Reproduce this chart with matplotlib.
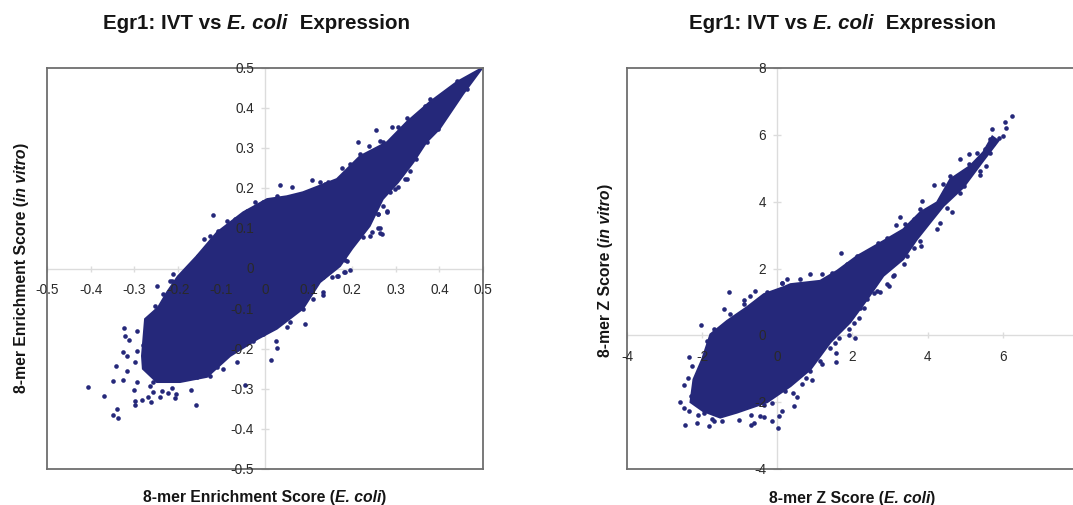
import matplotlib
matplotlib.use('Agg')
import matplotlib.pyplot as plt

plt.rcParams['font.family'] = ['Liberation Sans', 'DejaVu Sans']

W, H = 1073, 506
BLUE = '#25287a'
GREY = '#6e6e6e'
LIGHT = '#dcdcdc'
TXT = '#2a2a2a'

# left panel: outline of the solid cloud
left_hull_x = [-0.282, -0.275, -0.245, -0.225, -0.20, -0.157, -0.11, -0.05, 0.005, 0.05, 0.087, 0.165,
               0.218, 0.28, 0.325, 0.378, 0.44, 0.498, 0.454, 0.40, 0.37, 0.34, 0.305, 0.27, 0.24,
               0.20, 0.172, 0.126, 0.087, 0.027, -0.018, -0.08, -0.133, -0.195, -0.248, -0.28]
left_hull_y = [-0.218, -0.126, -0.097, -0.06, -0.02, 0.03, 0.09, 0.14, 0.173, 0.18, 0.19, 0.223,
               0.28, 0.315, 0.365, 0.415, 0.465, 0.5, 0.435, 0.348, 0.315, 0.265, 0.215, 0.173, 0.106,
               0.05, 0.006, -0.034, -0.10, -0.15, -0.176, -0.218, -0.27, -0.283, -0.283, -0.25]

# left panel: separate dots outside the cloud
left_x = [-0.407, -0.369, -0.348, -0.342, -0.348, -0.339, -0.338, -0.323, -0.32, -0.311, -0.294, -0.326,
          -0.317, -0.294, -0.298, -0.317, -0.326, -0.293, -0.30, -0.299, -0.299, -0.283, -0.262, -0.268,
          -0.258, -0.241, -0.237, -0.222, -0.214, -0.205, -0.206, -0.17, -0.158, -0.046, 0.013, 0.027,
          0.025, 0.092, -0.065, -0.12, 0.034, -0.21, -0.248, -0.218, 0.063, 0.107, 0.176, 0.214, 0.254,
          0.239, 0.264, 0.292, 0.325, 0.378, 0.264, 0.26, 0.279, 0.26, 0.271, 0.346, 0.333, 0.195, 0.181,
          0.167, 0.153, 0.187, 0.241, 0.218]
left_y = [-0.296, -0.317, -0.281, -0.244, -0.365, -0.35, -0.372, -0.148, -0.168, -0.178, -0.156, -0.207,
          -0.217, -0.205, -0.233, -0.255, -0.278, -0.283, -0.302, -0.33, -0.34, -0.327, -0.332, -0.32,
          -0.307, -0.32, -0.305, -0.31, -0.298, -0.313, -0.323, -0.302, -0.34, -0.29, -0.228, -0.199,
          -0.181, -0.138, -0.233, 0.134, 0.209, -0.014, -0.043, -0.03, 0.204, 0.221, 0.251, 0.315, 0.346,
          0.305, 0.319, 0.354, 0.375, 0.423, 0.088, 0.101, 0.142, 0.136, 0.157, 0.273, 0.244, -0.004,
          -0.009, -0.018, -0.021, 0.019, 0.082, 0.091]

# left panel: dots on the rough rim of the cloud
left_rim_x = [-0.141, -0.153, -0.126, -0.107, -0.088, -0.069, -0.042, -0.023, -0.004, 0.027, -0.214, -0.233,
              -0.252, 0.138, 0.264, 0.268, 0.245, 0.225, 0.214, 0.199, 0.183, 0.183, 0.164, 0.134, 0.134,
              0.26, 0.279, 0.287, 0.306, 0.325, -0.111, -0.157, -0.126, -0.096, -0.028, -0.004, 0.05,
              0.057, 0.088, 0.111, 0.134, -0.273, -0.279, -0.218, -0.264, -0.256, 0.126, 0.145, 0.195,
              0.218, 0.271, 0.306, 0.348, 0.367, 0.409, 0.44, 0.271, 0.298, 0.321, 0.371, 0.397, 0.432, 0.463]
left_rim_y = [0.074, 0.032, 0.082, 0.094, 0.119, 0.123, 0.144, 0.165, 0.167, 0.182, -0.03, -0.064,
              -0.094, 0.211, 0.10, 0.086, 0.09, 0.079, 0.094, 0.061, 0.022, -0.009, -0.018, -0.021, -0.066,
              0.136, 0.144, 0.19, 0.202, 0.223, -0.246, -0.271, -0.267, -0.25, -0.18, -0.163, -0.146,
              -0.134, -0.101, -0.076, -0.059, -0.163, -0.192, -0.276, -0.292, -0.283, 0.215, 0.215, 0.261,
              0.286, 0.315, 0.352, 0.381, 0.406, 0.435, 0.468, 0.194, 0.198, 0.223, 0.315, 0.348, 0.415, 0.448]

# right panel
right_hull_x = [-2.31, -2.23, -2.0, -1.78, -1.34, -0.81, -0.36, 0.16, 0.35, 1.14, 1.59, 2.12, 2.82, 3.35,
                3.8, 4.25, 4.6, 5.13, 5.48, 5.72, 5.88, 5.44, 4.95, 4.42, 4.07, 3.71, 3.35,
                2.82, 2.39, 1.94, 1.41, 0.88, 0.35, -0.27, -1.07, -1.52, -1.97]
right_hull_y = [-2.0, -1.32, -0.72, 0.03, 0.43, 0.84, 1.23, 1.44, 1.53, 1.63, 1.93, 2.37, 2.82, 3.17,
                3.68, 3.98, 4.67, 5.07, 5.48, 5.95, 5.82, 5.17, 4.43, 3.87, 3.38, 2.87, 2.28,
                1.78, 1.08, 0.39, -0.21, -1.02, -1.52, -2.0, -2.31, -2.46, -2.27]

right_x = [-1.29, -0.585, -0.72, -0.9, -1.41, -2.02, -2.34, -2.26, -2.39, -2.48, -2.58, -2.49, -2.34, -2.45,
           -2.14, -2.12, -1.83, -1.68, -1.01, -0.70, -0.63, -0.70, -0.45, -0.36, -0.14, 0.01, 0.04, 0.12,
           0.45, 0.51, 0.66, 0.92, 0.77, 1.19, 1.57, 1.57, 2.07, 1.92, 1.90, 2.16, 2.74, 2.92, 2.96, 3.11,
           1.70, 3.27, 3.16, 3.85, 4.16, 4.87, 5.11, 5.71, 6.09, 6.0, 6.06, 6.24, 5.56, 5.40, 4.65, 4.34,
           4.25, 3.83, 3.63, 3.36, 0.88, 1.19, 0.26, 0.13]
right_y = [1.30, 1.33, 1.18, 1.06, 0.80, 0.30, -0.64, -0.93, -1.27, -1.50, -2.0, -2.16, -2.27, -2.69,
           -2.61, -2.37, -2.72, -2.55, -2.54, -2.69, -2.61, -2.37, -2.42, -2.43, -2.57, -2.76, -2.40, -2.27,
           -2.10, -1.84, -1.47, -1.34, -1.29, -0.87, -0.54, -0.80, -0.07, 0.0, 0.18, 0.53, 1.30, 1.53, 1.48,
           1.80, 2.45, 3.55, 3.30, 4.02, 4.49, 5.27, 5.42, 6.17, 6.19, 5.97, 6.37, 6.55, 5.07, 4.79, 3.69,
           3.37, 3.19, 2.67, 2.60, 2.13, 1.83, 1.83, 1.68, 1.58]

right_rim_x = [-1.69, -1.87, -1.25, -0.90, -0.27, 0.13, -2.23, -2.31, -1.96, -1.47, -1.74, -1.16, -0.36, -0.14,
               0.21, 0.43, 0.88, 1.14, 1.41, 1.63, 2.30, 2.56, 0.61, 1.45, 1.85, 2.12, 2.39, 2.69, 2.92,
               3.40, 3.63, 3.80, 4.42, 4.60, 5.09, 5.31, 5.53, 5.66, 5.75, 5.89, 5.66, 5.40, 4.96, 4.87,
               4.51, 3.80, 3.45, 3.09, 2.65, 2.39, 2.21, 2.03, 1.68, 1.54]
right_rim_y = [0.18, -0.17, 0.63, 0.93, 1.30, 1.56, -1.52, -1.82, -2.31, -2.57, -2.51, -2.27, -2.07, -2.02,
               -1.67, -1.72, -1.07, -0.77, -0.37, -0.07, 0.83, 1.28, 1.68, 1.88, 2.13, 2.37, 2.48, 2.77, 2.92,
               3.32, 3.47, 3.77, 4.52, 4.77, 5.12, 5.47, 5.57, 5.87, 5.72, 5.92, 5.47, 4.92, 4.47, 4.27,
               3.82, 2.82, 2.37, 1.78, 1.33, 1.08, 0.83, 0.38, 0.18, -0.22]

left_ticks = [-0.5, -0.4, -0.3, -0.2, -0.1, 0, 0.1, 0.2, 0.3, 0.4, 0.5]
left_tick_labels = ['-0.5', '-0.4', '-0.3', '-0.2', '-0.1', '0', '0.1', '0.2', '0.3', '0.4', '0.5']
right_xticks = [-4, -2, 0, 2, 4, 6]
right_yticks = [-4, -2, 0, 2, 4, 6, 8]


def make_panel(box, xlim, ylim, hull_x, hull_y, pts_x, pts_y, xticks, xlabels, yticks, ylabels, label_gap):
    x0, y0, x1, y1 = box
    ax = fig.add_axes([x0 / W, 1 - y1 / H, (x1 - x0) / W, (y1 - y0) / H])
    ax.set_xlim(xlim)
    ax.set_ylim(ylim)
    ax.set_xticks([])
    ax.set_yticks([])
    for s in ax.spines.values():
        s.set_color(GREY)
        s.set_linewidth(1.3)
    ax.axhline(0, color=LIGHT, lw=1, zorder=1)
    ax.axvline(0, color=LIGHT, lw=1, zorder=1)
    ax.fill(hull_x, hull_y, color=BLUE, lw=1.5, zorder=2)
    ax.scatter(pts_x, pts_y, s=11, color=BLUE, lw=0, zorder=3, clip_on=False)
    ax.plot(xticks, [0] * len(xticks), '|', color=LIGHT, ms=4, zorder=1, clip_on=False)
    ax.plot([0] * len(yticks), yticks, '_', color=LIGHT, ms=6, zorder=1, clip_on=False)
    for t, lab in zip(xticks, xlabels):
        ax.annotate(lab, (t, 0), xytext=(0, -21), textcoords='offset pixels', ha='center', va='center',
                    fontsize=9.8, color=TXT, zorder=5, annotation_clip=False)
    for t, lab in zip(yticks, ylabels):
        ax.annotate(lab, (0, t), xytext=(label_gap, 0), textcoords='offset pixels', ha='right', va='center',
                    fontsize=9.8, color=TXT, zorder=5, annotation_clip=False)
    return ax


def mixed_text(x, y, parts, size, rotated=False):
    # x, y in image pixels, parts are (string, italic) laid end to end
    rend = fig.canvas.get_renderer()
    for s, italic in parts:
        t = fig.text(x / W, 1 - y / H, s, fontsize=size, fontweight='bold', color='#151515',
                     fontstyle='italic' if italic else 'normal',
                     rotation=90 if rotated else 0, ha='left', va='bottom' if rotated else 'baseline',
                     rotation_mode='anchor' if not rotated else 'default')
        box = t.get_window_extent(rend)
        if rotated:
            y -= box.height
        else:
            x += box.width


fig = plt.figure(figsize=(W / 100, H / 100), dpi=100)

make_panel((47, 69, 483, 470), (-0.5, 0.5), (-0.5, 0.5), left_hull_x, left_hull_y,
           left_x + left_rim_x, left_y + left_rim_y,
           left_ticks, left_tick_labels, left_ticks, left_tick_labels, -11)
make_panel((627, 69, 1078, 470), (-4, 8), (-4, 8), right_hull_x, right_hull_y,
           right_x + right_rim_x, right_y + right_rim_y,
           right_xticks, [str(v) for v in right_xticks], right_yticks, [str(v) for v in right_yticks], -11)

for x in (103, 689):
    mixed_text(x, 29, [('Egr1: IVT vs ', False), ('E. coli ', True), (' Expression', False)], 14.8)
mixed_text(143, 502, [('8-mer Enrichment Score (', False), ('E. coli', True), (')', False)], 11.3)
mixed_text(769, 503, [('8-mer Z Score (', False), ('E. coli', True), (')', False)], 11.3)
mixed_text(14, 393, [('8-mer Enrichment Score (', False), ('in vitro', True), (')', False)], 11.3, rotated=True)
mixed_text(598, 357, [('8-mer Z Score (', False), ('in vitro', True), (')', False)], 11.3, rotated=True)

fig.savefig('out.png', dpi=100)
